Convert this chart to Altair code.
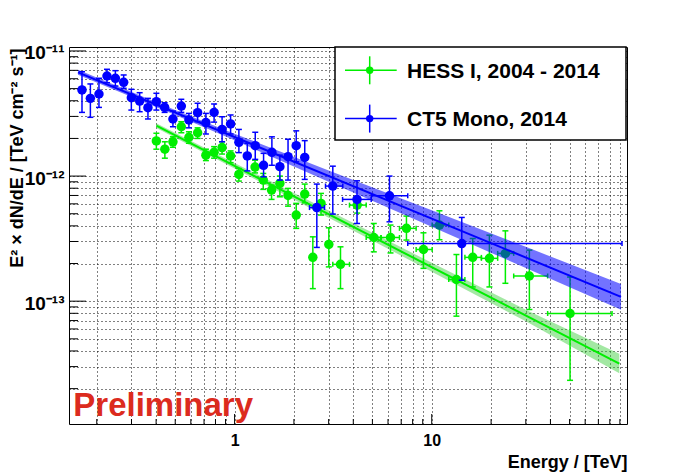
import altair as alt
import pandas as pd

# ---------------- data ----------------
GREEN_NAME = "HESS I, 2004 - 2014"
BLUE_NAME = "CT5 Mono, 2014"
GREEN = "#00ee00"
BLUE = "#0000ff"

# CT5 Mono 2014 (energy in TeV, E^2 dN/dE in TeV cm^-2 s^-1)
BLUE_E = [0.1683, 0.1856, 0.2052, 0.2253, 0.2485, 0.2738, 0.2995, 0.3300, 0.3636, 0.4011,
          0.4418, 0.4868, 0.5368, 0.5866, 0.6494, 0.7154, 0.7872, 0.8641, 0.9544, 1.0515,
          1.160, 1.273, 1.403, 1.546, 1.697, 1.867, 2.054, 2.269,
          2.613, 3.149, 4.178, 6.106, 14.20]
BLUE_F = [4.88e-12, 4.18e-12, 4.53e-12, 6.31e-12, 6.05e-12, 5.62e-12, 4.23e-12, 3.98e-12, 3.52e-12, 3.93e-12,
          3.54e-12, 2.86e-12, 3.63e-12, 2.81e-12, 3.21e-12, 2.68e-12, 3.23e-12, 2.36e-12, 2.61e-12, 1.86e-12,
          1.45e-12, 1.75e-12, 1.22e-12, 1.55e-12, 1.19e-12, 1.43e-12, 1.75e-12, 1.41e-12,
          5.60e-13, 8.32e-13, 6.51e-13, 6.96e-13, 2.89e-13]
BLUE_HI = [6.83e-12, 5.45e-12, 6.05e-12, 7.14e-12, 6.96e-12, 6.43e-12, 4.94e-12, 4.64e-12, 4.18e-12, 4.59e-12,
           3.86e-12, 3.31e-12, 4.11e-12, 3.17e-12, 3.82e-12, 3.17e-12, 3.77e-12, 2.98e-12, 3.08e-12, 2.36e-12,
           1.83e-12, 2.24e-12, 1.52e-12, 2.06e-12, 1.47e-12, 1.97e-12, 2.30e-12, 1.92e-12,
           8.63e-13, 1.20e-12, 9.17e-13, 1.00e-12, 4.67e-13]
BLUE_LO = [3.23e-12, 2.95e-12, 3.54e-12, 5.58e-12, 5.25e-12, 5.03e-12, 3.37e-12, 3.27e-12, 2.86e-12, 3.37e-12,
           3.23e-12, 2.48e-12, 3.23e-12, 2.43e-12, 2.72e-12, 2.17e-12, 2.70e-12, 1.88e-12, 2.17e-12, 1.54e-12,
           1.10e-12, 1.36e-12, 9.87e-13, 1.22e-12, 9.29e-13, 9.29e-13, 1.30e-12, 9.41e-13,
           2.69e-13, 4.97e-13, 4.18e-13, 4.31e-13, 1.47e-13]
BLUE_ELO = [None] * 28 + [2.399, 2.892, 3.53, 4.94, 7.556]
BLUE_EHI = [None] * 28 + [2.859, 3.539, 4.931, 7.556, 92.25]

# HESS I 2004 - 2014
GREEN_E = [0.4011, 0.443, 0.4868, 0.5368, 0.5866, 0.6494, 0.7154, 0.7872, 0.8641, 0.9544,
           1.0515, 1.270, 1.398, 1.540, 1.697, 1.867, 2.054, 2.269, 2.494, 2.744,
           3.006, 3.445, 4.187, 5.082, 6.178, 7.442, 9.078, 10.94, 13.34, 16.14,
           19.61, 23.63, 31.27, 50.29]
GREEN_F = [1.91e-12, 1.64e-12, 1.88e-12, 2.48e-12, 2.04e-12, 2.22e-12, 1.47e-12, 1.55e-12, 1.69e-12, 1.45e-12,
           1.03e-12, 1.18e-12, 9.29e-13, 7.73e-13, 8.74e-13, 7.01e-13, 4.88e-13, 7.18e-13, 2.24e-13, 6.05e-13,
           2.84e-13, 1.97e-13, 5.86e-13, 3.23e-13, 3.23e-13, 3.82e-13, 2.59e-13, 4.06e-13, 1.49e-13, 2.24e-13,
           2.20e-13, 2.41e-13, 1.59e-13, 7.97e-14]
GREEN_HI = [2.20e-12, 1.88e-12, 2.06e-12, 2.72e-12, 2.26e-12, 2.43e-12, 1.64e-12, 1.72e-12, 1.88e-12, 1.59e-12,
            1.15e-12, 1.34e-12, 1.05e-12, 8.47e-13, 1.00e-12, 7.97e-13, 6.05e-13, 8.63e-13, 3.27e-13, 7.27e-13,
            3.86e-13, 2.72e-13, 6.79e-13, 4.18e-13, 4.06e-13, 4.79e-13, 3.52e-13, 5.28e-13, 2.36e-13, 3.17e-13,
            3.37e-13, 3.65e-13, 2.56e-13, 1.56e-13]
GREEN_LO = [1.64e-12, 1.39e-12, 1.70e-12, 2.22e-12, 1.83e-12, 2.00e-12, 1.33e-12, 1.39e-12, 1.50e-12, 1.28e-12,
            9.12e-13, 1.06e-12, 7.83e-13, 6.51e-13, 6.83e-13, 5.75e-13, 3.82e-13, 6.11e-13, 1.26e-13, 4.88e-13,
            1.88e-13, 1.26e-13, 5.06e-13, 2.48e-13, 2.43e-13, 3.08e-13, 1.83e-13, 3.10e-13, 7.59e-14, 1.30e-13,
            1.30e-13, 1.39e-13, 8.58e-14, 2.33e-14]
GREEN_ELO = [None] * 21 + [3.149, 3.827, 4.651, 5.53, 6.861, 8.334, 10.05, 12.20, 14.73, 17.86, 21.60, 26.04, 38.71]
GREEN_EHI = [None] * 21 + [3.827, 4.651, 5.53, 6.861, 8.334, 10.05, 12.20, 14.73, 17.86, 21.60, 26.04, 38.71, 82.11]

# power-law fits and their uncertainty bands
BLUE_FIT_E = [0.1606, 91.2]
BLUE_FIT_F = [6.75e-12, 1.082e-13]
BLUE_BAND_E = [0.1606, 0.5, 1, 3, 10, 30, 91.2]
BLUE_BAND_LO = [6.45e-12, 3.08e-12, 1.93e-12, 9.03e-13, 3.93e-13, 1.84e-13, 8.56e-14]
BLUE_BAND_HI = [7.07e-12, 3.37e-12, 2.18e-12, 1.11e-12, 5.32e-13, 2.72e-13, 1.369e-13]

GREEN_FIT_E = [0.401, 89.4]
GREEN_FIT_F = [2.535e-12, 3.17e-14]
GREEN_BAND_E = [0.401, 1, 3, 10, 30, 89.4]
GREEN_BAND_LO = [2.42e-12, 1.149e-12, 4.65e-13, 1.72e-13, 6.90e-14, 2.65e-14]
GREEN_BAND_HI = [2.65e-12, 1.272e-12, 5.30e-13, 2.03e-13, 8.56e-14, 3.80e-14]

# axes
X_DOMAIN = [0.1446, 97.8]
Y_DOMAIN = [1.043e-14, 1.076e-11]
X_MAJOR = [1, 10]
X_MINOR = [0.2, 0.3, 0.4, 0.5, 0.6, 0.7, 0.8, 0.9, 2, 3, 4, 5, 6, 7, 8, 9,
           20, 30, 40, 50, 60, 70, 80, 90]
X_LABELS = {1: "1", 10: "10"}
Y_MAJOR = [1e-13, 1e-12, 1e-11]
Y_MINOR = [2e-14, 3e-14, 4e-14, 5e-14, 6e-14, 7e-14, 8e-14, 9e-14,
           2e-13, 3e-13, 4e-13, 5e-13, 6e-13, 7e-13, 8e-13, 9e-13,
           2e-12, 3e-12, 4e-12, 5e-12, 6e-12, 7e-12, 8e-12, 9e-12]
Y_LABELS = {-11: "10\u207b\u00b9\u00b9", -12: "10\u207b\u00b9\u00b2", -13: "10\u207b\u00b9\u00b3"}
X_TITLE = "Energy / [TeV]"
Y_TITLE = "E\u00b2 \u00d7 dN/dE / [TeV cm\u207b\u00b2 s\u207b\u00b9]"
PRELIM_TEXT = "Preliminary"
PRELIM_E = 0.152
PRELIM_F = 1.202e-14

LEGEND_NAMES = [GREEN_NAME, BLUE_NAME]
LEGEND_COLORS = [GREEN, BLUE]

# ---------------- layout / style ----------------
W, H = 558, 377
FONT = "Liberation Sans"

XS = alt.Scale(type="log", domain=X_DOMAIN, nice=False)
YS = alt.Scale(type="log", domain=Y_DOMAIN, nice=False)

x_label_expr = " : ".join(
    [f"datum.value == {k} ? '{v}'" for k, v in X_LABELS.items()] + ["''"])
y_label_expr = " : ".join(
    [f"abs(log(datum.value)/LN10 - ({k})) < 0.001 ? '{v}'" for k, v in Y_LABELS.items()] + ["''"])

X_AXIS = alt.Axis(
    values=X_MINOR + X_MAJOR, grid=True, gridDash=[1, 3], gridColor="black",
    gridOpacity=1, gridWidth=1, ticks=False, tickSize=0, domain=False,
    labelExpr=x_label_expr, labelFont=FONT, labelFontSize=16, labelFontWeight="bold",
    labelColor="black", labelPadding=8, labelOverlap=False, labelFlush=False,
    title=X_TITLE, titleFont=FONT, titleFontSize=18, titleFontWeight="bold",
    titleColor="black", titleX=W, titleY=43, titleAlign="right",
    titleBaseline="alphabetic")

Y_AXIS = alt.Axis(
    values=Y_MINOR + Y_MAJOR, grid=True, gridDash=[1, 3], gridColor="black",
    gridOpacity=1, gridWidth=1, ticks=False, tickSize=0, domain=False,
    labelExpr=y_label_expr, labelFont=FONT, labelFontSize=19, labelFontWeight="bold",
    labelColor="black", labelPadding=5, labelOverlap=False, labelFlush=False,
    labelBaseline="middle", labelOffset=2,
    title=Y_TITLE, titleFont=FONT, titleFontSize=18, titleFontWeight="bold",
    titleColor="black", titleX=-47, titleY=1, titleAngle=270, titleAlign="right",
    titleBaseline="alphabetic")


def X(field):
    return alt.X(field, type="quantitative", scale=XS, axis=X_AXIS)


def Y(field):
    return alt.Y(field, type="quantitative", scale=YS, axis=Y_AXIS)


layers = []

# inward ROOT-style ticks
layers.append(alt.Chart(pd.DataFrame({"v": Y_MINOR})).mark_rule(color="black", strokeWidth=1)
              .encode(y=Y("v"), x=alt.value(0), x2=alt.value(9)))
layers.append(alt.Chart(pd.DataFrame({"v": Y_MAJOR})).mark_rule(color="black", strokeWidth=1)
              .encode(y=Y("v"), x=alt.value(0), x2=alt.value(17)))
layers.append(alt.Chart(pd.DataFrame({"v": X_MINOR})).mark_rule(color="black", strokeWidth=1)
              .encode(x=X("v"), y=alt.value(H), y2=alt.value(H - 5)))
layers.append(alt.Chart(pd.DataFrame({"v": X_MAJOR})).mark_rule(color="black", strokeWidth=1)
              .encode(x=X("v"), y=alt.value(H), y2=alt.value(H - 10)))


def series(E, F, LO, HI, ELO, EHI, fitE, fitF, bandE, bandLO, bandHI, color, band_color, band_op):
    df = pd.DataFrame({"E": E, "F": F, "lo": LO, "hi": HI,
                       "elo": [float("nan") if v is None else v for v in ELO],
                       "ehi": [float("nan") if v is None else v for v in EHI]})
    hdf = df.dropna(subset=["elo"])
    band = pd.DataFrame({"E": bandE, "lo": bandLO, "hi": bandHI})
    fit = pd.DataFrame({"E": fitE, "F": fitF})
    out = []
    out.append(alt.Chart(band).mark_area(color=band_color, opacity=band_op)
               .encode(x=X("E"), y=Y("lo"), y2="hi"))
    out.append(alt.Chart(fit).mark_line(color=color, strokeWidth=2)
               .encode(x=X("E"), y=Y("F")))
    base = alt.Chart(df)
    out.append(base.mark_rule(color=color, strokeWidth=1.5).encode(x=X("E"), y=Y("lo"), y2="hi"))
    for f in ("lo", "hi"):
        out.append(base.mark_tick(color=color, orient="horizontal", size=6, thickness=1.5, opacity=1)
                   .encode(x=X("E"), y=Y(f)))
    h = alt.Chart(hdf)
    out.append(h.mark_rule(color=color, strokeWidth=1.5).encode(x=X("elo"), x2="ehi", y=Y("F")))
    for f in ("elo", "ehi"):
        out.append(h.mark_tick(color=color, orient="vertical", size=5, thickness=1.5, opacity=1)
                   .encode(x=X(f), y=Y("F")))
    out.append(base.mark_circle(color=color, size=90, opacity=1).encode(x=X("E"), y=Y("F")))
    return out


layers += series(GREEN_E, GREEN_F, GREEN_LO, GREEN_HI, GREEN_ELO, GREEN_EHI,
                 GREEN_FIT_E, GREEN_FIT_F, GREEN_BAND_E, GREEN_BAND_LO, GREEN_BAND_HI,
                 GREEN, "#33cc33", 0.45)
layers += series(BLUE_E, BLUE_F, BLUE_LO, BLUE_HI, BLUE_ELO, BLUE_EHI,
                 BLUE_FIT_E, BLUE_FIT_F, BLUE_BAND_E, BLUE_BAND_LO, BLUE_BAND_HI,
                 BLUE, "#0000ff", 0.55)

# legend box
one = pd.DataFrame({"k": [0]})
layers.append(alt.Chart(one).mark_rect(fill="white", stroke="black", strokeWidth=1.5)
              .encode(x=alt.value(266), x2=alt.value(557), y=alt.value(0), y2=alt.value(93)))
for i, (name, col) in enumerate(zip(LEGEND_NAMES, LEGEND_COLORS)):
    yc = 23.3 + 48.3 * i
    ldf = pd.DataFrame({"name": [name]})
    lc = alt.Chart(ldf)
    layers.append(lc.mark_rule(color=col, strokeWidth=1.5)
                  .encode(x=alt.value(276), x2=alt.value(327.7), y=alt.value(yc)))
    layers.append(lc.mark_rule(color=col, strokeWidth=1.5)
                  .encode(x=alt.value(300.7), y=alt.value(yc - 14), y2=alt.value(yc + 14)))
    layers.append(lc.mark_circle(color=col, size=55, opacity=1)
                  .encode(x=alt.value(300.7), y=alt.value(yc)))
    layers.append(lc.mark_text(align="left", baseline="alphabetic", font=FONT, fontSize=21,
                               fontWeight="bold", color="black")
                  .encode(x=alt.value(338), y=alt.value(yc + 7.2), text="name:N"))

# "Preliminary" stamp
layers.append(alt.Chart(pd.DataFrame({"E": [PRELIM_E], "F": [PRELIM_F], "t": [PRELIM_TEXT]}))
              .mark_text(align="left", baseline="alphabetic", font=FONT, fontSize=33,
                         fontWeight="bold", color="#dc2b1e")
              .encode(x=X("E"), y=Y("F"), text="t:N"))

chart = alt.layer(*layers).properties(
    width=W, height=H,
    autosize=alt.AutoSizeParams(type="none"),
    padding={"left": 61, "top": 39, "right": 60, "bottom": 48},
).configure_view(stroke="black", strokeWidth=1)

chart.save("out.html", embed_options={"renderer": "svg", "actions": False})
